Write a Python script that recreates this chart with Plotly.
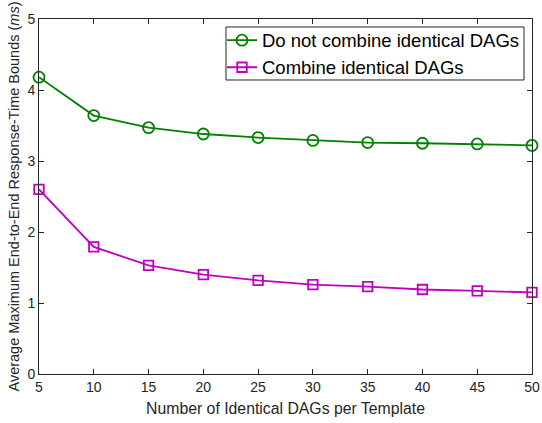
import plotly.graph_objects as go

x_vals = [5, 10, 15, 20, 25, 30, 35, 40, 45, 50]
no_combine = [4.18, 3.64, 3.47, 3.38, 3.33, 3.29, 3.26, 3.25, 3.24, 3.22]
combine = [2.60, 1.79, 1.53, 1.40, 1.32, 1.26, 1.23, 1.19, 1.17, 1.15]
series_names = ["Do not combine identical DAGs", "Combine identical DAGs"]
x_ticks = [5, 10, 15, 20, 25, 30, 35, 40, 45, 50]
y_ticks = [0, 1, 2, 3, 4, 5]

green = "#008000"
magenta = "#bf00bf"
axis_color = "#262626"
font_family = "Liberation Sans, Arial, Helvetica, sans-serif"

fig = go.Figure()
fig.add_trace(go.Scatter(
    x=x_vals, y=no_combine, mode="lines+markers", name=series_names[0],
    line=dict(color=green, width=1.8),
    marker=dict(symbol="circle-open", size=11, color=green, line=dict(width=1.8, color=green)),
    cliponaxis=False,
))
fig.add_trace(go.Scatter(
    x=x_vals, y=combine, mode="lines+markers", name=series_names[1],
    line=dict(color=magenta, width=1.8),
    marker=dict(symbol="square-open", size=9.5, color=magenta, line=dict(width=1.8, color=magenta)),
    cliponaxis=False,
))

axis_common = dict(
    showline=True, linecolor=axis_color, linewidth=1, mirror="ticks",
    ticks="inside", ticklen=5, tickcolor=axis_color, tickwidth=1,
    showgrid=False, zeroline=False, automargin=False,
    tickfont=dict(family=font_family, size=14, color=axis_color),
)

# legend frame (paper coordinates of the plot area)
fig.add_shape(type="rect", xref="paper", yref="paper",
              x0=0.3793, x1=0.9838, y0=0.8282, y1=0.9775,
              line=dict(color=axis_color, width=1), fillcolor="white", layer="above")

fig.update_layout(
    width=542, height=423,
    margin=dict(l=39, r=10, t=19, b=49, autoexpand=False),
    paper_bgcolor="white", plot_bgcolor="white",
    font=dict(family=font_family, color=axis_color),
    xaxis=dict(range=[5, 50], tickvals=x_ticks,
               title=dict(text="Number of Identical DAGs per Template",
                          font=dict(family=font_family, size=15.8, color=axis_color), standoff=9),
               **axis_common),
    yaxis=dict(range=[0, 5], tickvals=y_ticks,
               title=dict(text="Average Maximum End-to-End Response-Time Bounds (<i>ms</i>)",
                          font=dict(family=font_family, size=14.5, color=axis_color), standoff=4),
               **axis_common),
    legend=dict(
        x=0.3712, y=0.9924, xanchor="left", yanchor="top",
        bgcolor="rgba(0,0,0,0)", borderwidth=0,
        font=dict(family=font_family, size=18.5, color="black"),
        itemwidth=30, tracegroupgap=0,
    ),
    showlegend=True,
)

fig.write_html("out.html", config={"displayModeBar": False},
               post_script="document.body.style.margin='0';")
